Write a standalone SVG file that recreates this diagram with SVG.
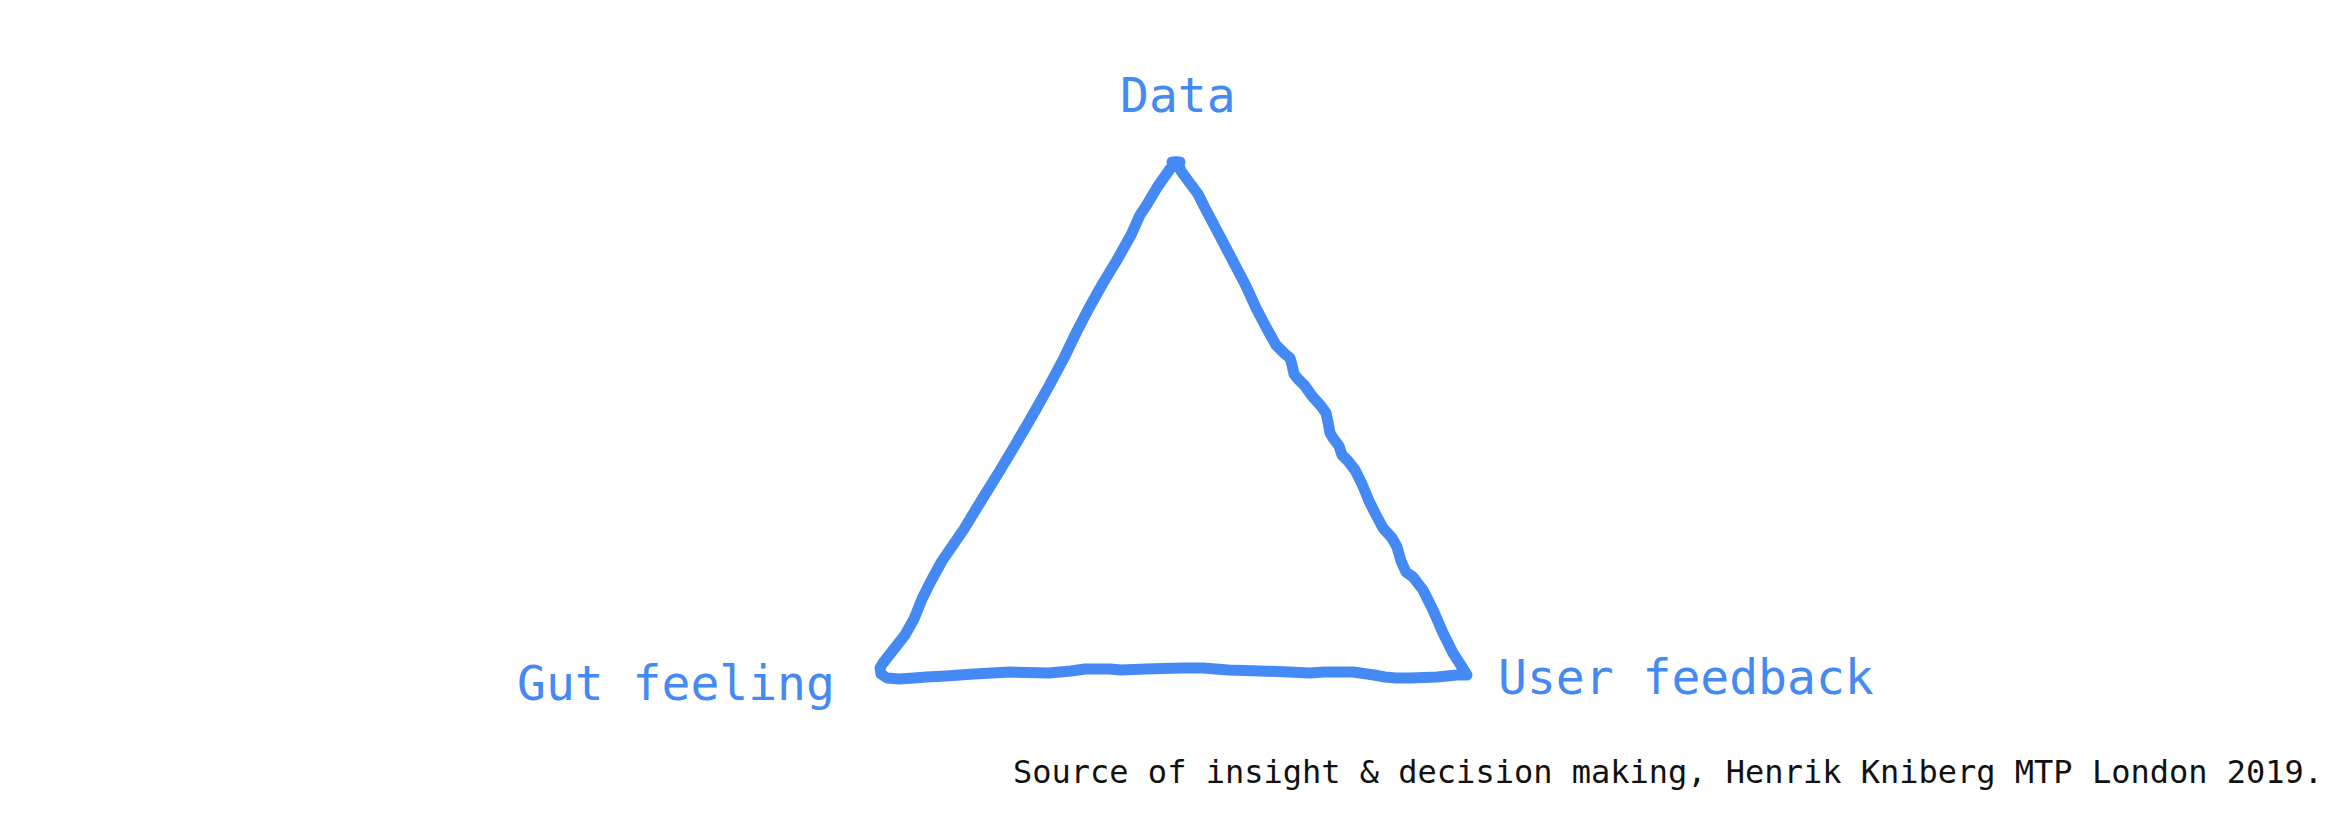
<svg xmlns="http://www.w3.org/2000/svg" width="2350" height="826" viewBox="0 0 2350 826">
  <style>
    .lbl { font-family: "DejaVu Sans Mono", "Liberation Mono", monospace; font-size: 48px; fill: #4589F4; }
    .src { font-family: "DejaVu Sans Mono", "Liberation Mono", monospace; font-size: 32px; fill: #111111; }
    .stroke { fill: none; stroke: #4589F4; stroke-width: 11; stroke-linecap: round; stroke-linejoin: round; }
  </style>
  <rect x="0" y="0" width="2350" height="826" fill="#ffffff"/>
  <g id="connectors">
    <polyline class="stroke" points="1172,162 1180,162"/>
    <polyline class="stroke" points="1176,162 1170,169 1158,186 1146,206 1140,215 1131,235 1117,260 1103,283 1089,308 1076,333 1064,358 1049,386 1035,411 1017,442 999,472 981,501 964,529 942,561 931,581 922,599 914,619 905,635 894,649 883,663 880,668 881,674 887,678 899,679 914,678 926,677 946,676 974,674 1010,672 1049,673 1071,671 1085,669 1110,669 1121,670 1146,669 1181,668 1203,668 1228,670 1260,671 1289,672 1310,673 1324,672 1353,672 1374,675 1385,677 1396,678 1410,678 1437,677 1457,675 1467,675 1462,667 1453,653 1443,633 1433,610 1423,590 1413,577 1406,572 1401,561 1397,547 1392,538 1383,528 1376,515 1369,501 1362,484 1355,470 1348,461 1342,455 1339,446 1333,438 1330,433 1328,422 1326,413 1321,406 1312,396 1305,386 1298,379 1294,374 1292,365 1290,358 1285,354 1276,345 1267,329 1256,308 1246,286 1235,265 1224,244 1214,225 1205,208 1198,194 1189,182 1181,171 1178,163"/>
  </g>
  <g id="node-data">
    <text class="lbl" x="1120" y="112">Data</text>
  </g>
  <g id="node-gut-feeling">
    <text class="lbl" x="517" y="700">Gut feeling</text>
  </g>
  <g id="node-user-feedback">
    <text class="lbl" x="1498" y="694">User feedback</text>
  </g>
  <g id="caption">
    <text class="src" x="1013" y="783">Source of insight &amp; decision making, Henrik Kniberg MTP London 2019.</text>
  </g>
</svg>
